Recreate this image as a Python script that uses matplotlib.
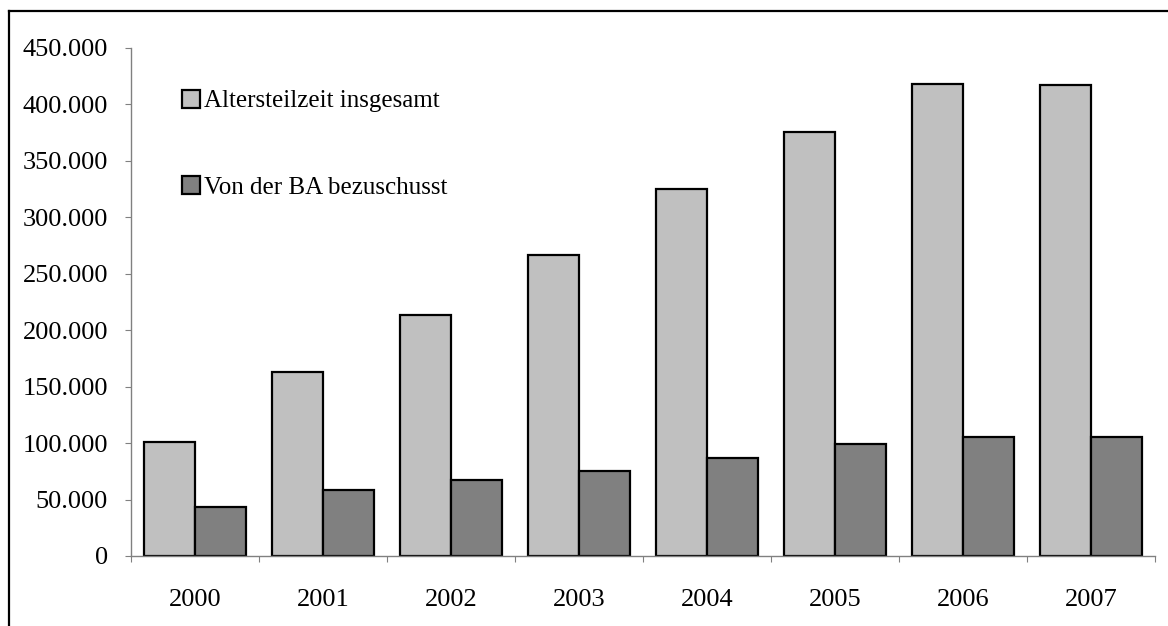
import numpy as np
import matplotlib
matplotlib.use("Agg")
import matplotlib.pyplot as plt
from matplotlib.ticker import FuncFormatter, FixedLocator

plt.rcParams['font.family'] = ['Liberation Serif', 'DejaVu Serif']

years = ['2000', '2001', '2002', '2003', '2004', '2005', '2006', '2007']
insgesamt = [100700, 162800, 213500, 266700, 324900, 375400, 418200, 417300]
bezuschusst = [43200, 58200, 67300, 75300, 87100, 99000, 105400, 105400]

fig = plt.figure(figsize=(11.68, 6.26), dpi=100)
ax = fig.add_axes([131 / 1168, 1 - 556 / 626, (1155 - 131) / 1168, (556 - 48) / 626])

x = np.arange(len(years))
w = 0.40
ax.bar(x - w / 2, insgesamt, w, color='#C0C0C0', edgecolor='black', linewidth=1.6,
       label='Altersteilzeit insgesamt')
ax.bar(x + w / 2, bezuschusst, w, color='#808080', edgecolor='black', linewidth=1.6,
       label='Von der BA bezuschusst')

ax.set_xlim(-0.5, len(years) - 0.5)
ax.set_ylim(0, 450000)
ax.set_yticks(np.arange(0, 450001, 50000))
ax.yaxis.set_major_formatter(FuncFormatter(lambda v, p: f"{int(v):,}".replace(",", ".")))

# ticks between categories, labels centred
ax.xaxis.set_major_locator(FixedLocator(np.arange(-0.5, len(years), 1.0)))
ax.xaxis.set_major_formatter(FuncFormatter(lambda v, p: ''))
ax.set_xticks(x, minor=True)
ax.set_xticklabels(years, minor=True)
ax.tick_params(axis='x', which='minor', length=0, pad=24, labelsize=19)
ax.tick_params(axis='x', which='major', length=4.5, color='#808080', direction='out')
ax.tick_params(axis='y', length=4.5, color='#808080', direction='out', pad=12, labelsize=19)

for s in ['top', 'right']:
    ax.spines[s].set_visible(False)
for s in ['left', 'bottom']:
    ax.spines[s].set_color('#808080')
    ax.spines[s].set_linewidth(1.0)

leg = ax.legend(loc='upper left', bbox_to_anchor=(172 / 1168, 1 - 80 / 626),
                bbox_transform=fig.transFigure, frameon=False, fontsize=18,
                handlelength=0.7, handleheight=0.7, handletextpad=0.2,
                labelspacing=2.55, borderaxespad=0)
for h in leg.legend_handles:
    h.set_linewidth(1.6)

# outer frame (left and top edges visible)
fig.add_artist(plt.Line2D([9 / 1168, 9 / 1168], [0, 1 - 11 / 626], color='black', linewidth=1.6))
fig.add_artist(plt.Line2D([9 / 1168, 1], [1 - 11 / 626, 1 - 11 / 626], color='black', linewidth=1.6))

fig.savefig('out.png', dpi=100)
